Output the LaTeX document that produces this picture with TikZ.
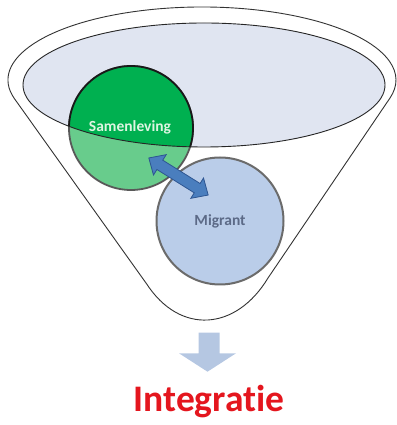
\documentclass[tikz,border=0pt]{standalone}
\usepackage{fontspec}
\setmainfont{Carlito}[Ligatures=NoCommon]
\definecolor{ellfill}{RGB}{224,229,241}
\definecolor{darkgreen}{RGB}{0,176,80}
\definecolor{lightgreen}{RGB}{104,204,140}
\definecolor{migfill}{RGB}{186,205,233}
\definecolor{migtext}{RGB}{92,106,135}
\definecolor{arrowblue}{RGB}{74,126,190}
\definecolor{arrowedge}{RGB}{45,85,145}
\definecolor{downblue}{RGB}{181,199,226}
\definecolor{intred}{RGB}{228,22,30}
\definecolor{samtext}{RGB}{222,245,226}
\tikzset{
  funnel/.style={draw=black!80, line width=0.9pt, fill=white},
  innerell/.style={fill=ellfill},
  ellborder/.style={draw=black!85, line width=0.9pt},
  samcirc/.style={circle, minimum size=124, inner sep=0pt, fill=lightgreen, draw=black!65, line width=1.8pt},
  migcirc/.style={circle, minimum size=127, inner sep=0pt, fill=migfill, draw=black!58, line width=2pt,
    text=migtext, font=\bfseries\fontsize{15.5}{18}\selectfont},
  samlabel/.style={text=samtext, font=\bfseries\fontsize{15.5}{18}\selectfont, inner sep=0pt},
  blockarrow/.style={fill=arrowblue, draw=arrowedge, line width=0.8pt, line join=miter},
  downarrow/.style={fill=downblue},
  inttext/.style={text=intred, font=\bfseries\fontsize{37.5}{42}\selectfont, inner sep=0pt}
}
\begin{document}
\begin{tikzpicture}[x=1pt,y=1pt]
\useasboundingbox (0,0) rectangle (396,425);
% funnel body
\path[funnel] (146.7,141) -- (14.6,326.1)
  arc[start angle=195, end angle=-14.3, x radius=194pt, y radius=73pt]
  -- (268,147) .. controls (236,94) and (180,90) .. cycle;
% inner ellipse fill
\path[innerell] (204,340) ellipse[x radius=181pt, y radius=62pt];
% migrant circle
\node[migcirc] (mig) at (220,204) {Migrant};
% samenleving circle
\node[samcirc] (sam) at (131,297) {};
\begin{scope}
  \clip (204,340) ellipse[x radius=181pt, y radius=62pt];
  \fill[darkgreen] (sam.center) circle[radius=62pt];
  \draw[black!90, line width=1.8pt] (sam.center) circle[radius=62pt];
\end{scope}
% inner ellipse border
\path[ellborder] (204,340) ellipse[x radius=181pt, y radius=62pt];
\node[samlabel, anchor=base] (samtxt) at (130,293) {Samenleving};
% double block arrow between the circles
\begin{scope}[shift={(178.5,248.5)}, rotate=-32]
  \coordinate (da1) at (-35,0);
  \coordinate (da2) at (35,0);
  \path[blockarrow] (da1) -- (-22,12) -- (-22,5.5) -- (22,5.5) -- (22,12) -- (da2)
    -- (22,-12) -- (22,-5.5) -- (-22,-5.5) -- (-22,-12) -- cycle;
\end{scope}
% down arrow
\path[downarrow] (198.5,92.3) -- (219.5,92.3) -- (219.5,71.7) -- (236,71.7) -- (207.5,53.3)
  -- (179,71.7) -- (198.5,71.7) -- cycle;
\node[inttext, anchor=base] (integ) at (209,13) {Integratie};
\end{tikzpicture}
\end{document}
